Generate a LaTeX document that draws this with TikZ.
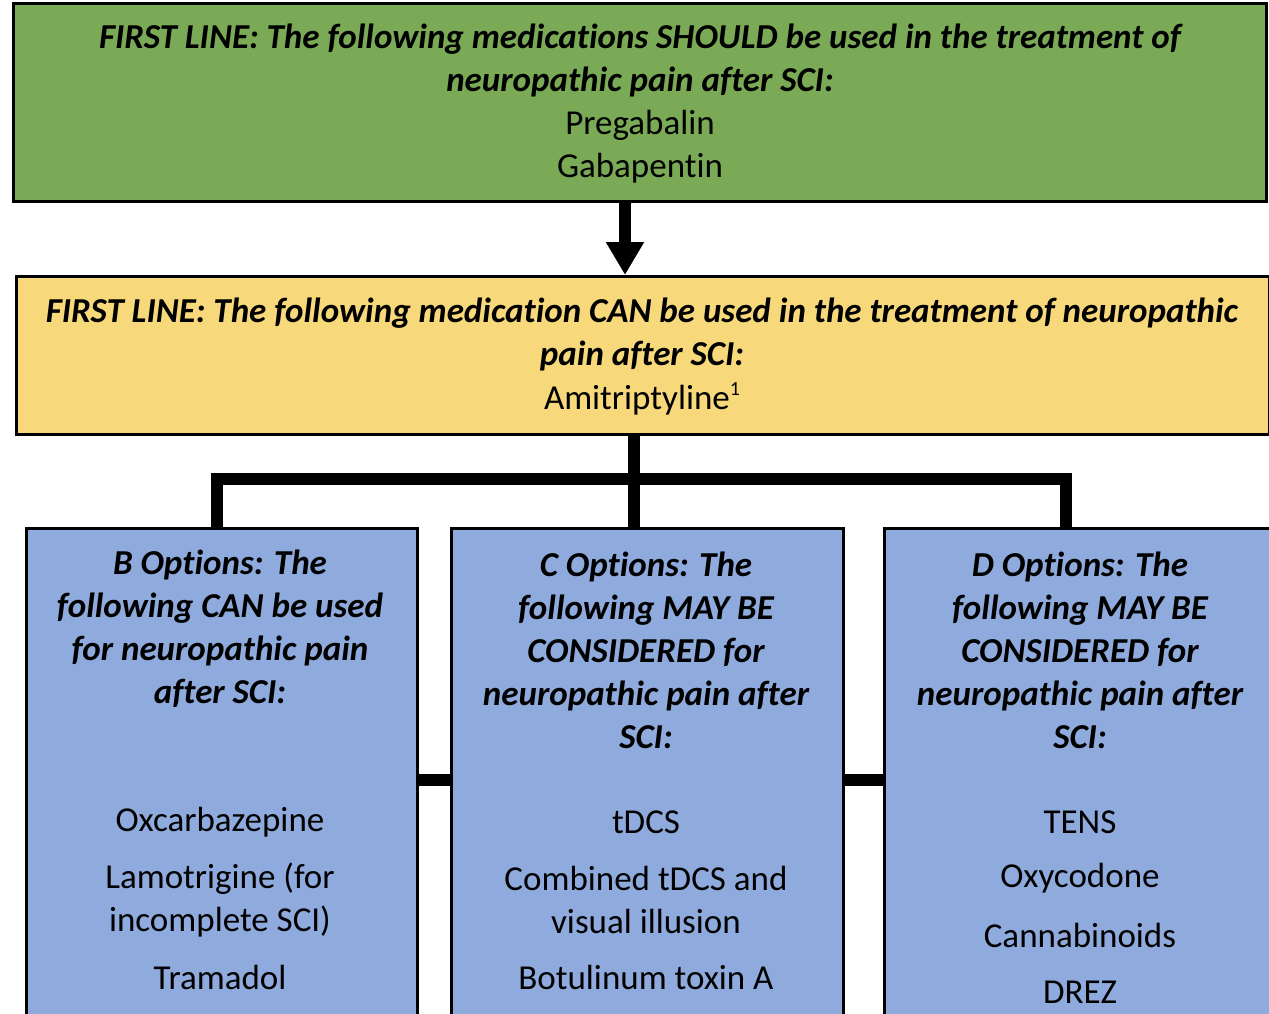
\documentclass[tikz,border=0pt]{standalone}
\usepackage{fontspec}
\setmainfont[Ligatures=NoCommon]{Carlito}
\usetikzlibrary{arrows.meta}
\definecolor{boxgreen}{RGB}{122,170,85}
\definecolor{boxyellow}{RGB}{247,216,122}
\definecolor{boxblue}{RGB}{143,170,220}
\tikzset{
  panel/.style={draw=black, line width=3pt, anchor=north west, inner sep=0pt},
  txt/.style={align=center, inner sep=0pt, yshift=-2pt, font=\fontsize{35}{43}\selectfont},
  head/.style={txt, font=\fontsize{35}{43}\selectfont\bfseries\itshape},
  link/.style={line width=12pt, line join=miter, line cap=butt},
}
\newcommand{\smallsup}[1]{\raisebox{0.42em}{\fontsize{20}{20}\selectfont #1}}
\begin{document}
\begin{tikzpicture}[x=1pt,y=-1pt]
\useasboundingbox (0,0) rectangle (1269,1013);
\clip (0,0) rectangle (1269,1013);
% boxes
\node[panel, fill=boxgreen, minimum width=1253pt, minimum height=198pt] (green) at (12,2) {};
\node[panel, fill=boxyellow, minimum width=1253pt, minimum height=158pt] (yellow) at (15,275) {};
\node[panel, fill=boxblue, minimum width=391pt, minimum height=520pt] (bbox) at (25,527) {};
\node[panel, fill=boxblue, minimum width=392pt, minimum height=520pt] (cbox) at (450,527) {};
\node[panel, fill=boxblue, minimum width=392pt, minimum height=520pt] (dbox) at (883,527) {};
% helper coordinates
\coordinate (ax) at (625,0);
\coordinate (tx) at (634,0);
\coordinate (bx) at (217,479);
\coordinate (dx) at (1066,479);
\coordinate (my) at (0,780);
% connectors
\draw[link, -{Triangle[length=33pt,width=36pt]}] (green.south -| ax) -- (yellow.north -| ax);
\draw[link] (yellow.south -| tx) -- (cbox.north -| tx);
\draw[link] (bbox.north -| bx) -- (bx) -- (dx) -- (dbox.north -| dx);
\draw[link] (bbox.east |- my) -- (cbox.west |- my);
\draw[link] (cbox.east |- my) -- (dbox.west |- my);
% green text
\node[head] (g1) at (640,37) {FIRST LINE: The following medications SHOULD be used in the treatment of};
\node[head] (g2) at (640,80) {neuropathic pain after SCI:};
\node[txt] (g3) at (640,123) {Pregabalin};
\node[txt] (g4) at (640,166) {Gabapentin};
% yellow text
\node[head] (y1) at (642,311) {FIRST LINE: The following medication CAN be used in the treatment of neuropathic};
\node[head] (y2) at (642,354) {pain after SCI:};
\node[txt] (y3) at (642,397) {Amitriptyline\smallsup{1}};
% B
\node[head] (b1) at (220,627) {B Options: The\\following CAN be used\\for neuropathic pain\\after SCI:};
\node[txt] (b2) at (220,820) {Oxcarbazepine};
\node[txt] (b3) at (220,898) {Lamotrigine (for\\incomplete SCI)};
\node[txt] (b4) at (220,975) {Tramadol};
% C
\node[head] (c1) at (646,648) {C Options: The\\following MAY BE\\CONSIDERED for\\neuropathic pain after\\SCI:};
\node[txt] (c2) at (646,820) {tDCS};
\node[txt] (c3) at (646,898) {Combined tDCS and\\visual illusion};
\node[txt] (c4) at (646,975) {Botulinum toxin A};
% D
\node[head] (d1) at (1080,648) {D Options: The\\following MAY BE\\CONSIDERED for\\neuropathic pain after\\SCI:};
\node[txt] (d2) at (1080,820) {TENS};
\node[txt] (d3) at (1080,876) {Oxycodone};
\node[txt] (d4) at (1080,933) {Cannabinoids};
\node[txt] (d5) at (1080,990) {DREZ};
\end{tikzpicture}
\end{document}
